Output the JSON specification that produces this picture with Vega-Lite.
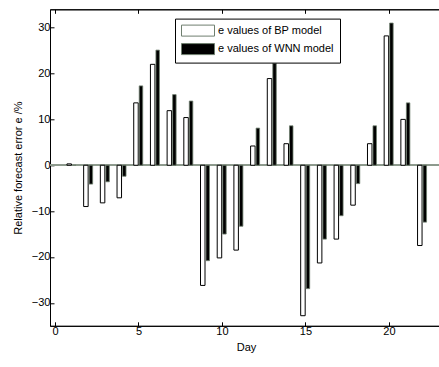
{
  "$schema": "https://vega.github.io/schema/vega-lite/v6.json",
  "width": 392,
  "height": 316.5,
  "autosize": {"type": "none"},
  "padding": {"left": 50, "top": 9.3, "right": 0, "bottom": 41.2},
  "config": {
    "font": "Liberation Sans",
    "view": {"stroke": "black", "strokeWidth": 1},
    "axis": {"grid": false, "domainColor": "black", "tickColor": "black", "labelColor": "black", "titleColor": "black", "labelFontSize": 11, "titleFontSize": 11, "titleFontWeight": "normal"}
  },
  "data": {
    "values": [
      {"day": 1, "model": "e values of BP model", "e": 0.3},
      {"day": 1, "model": "e values of WNN model", "e": 0},
      {"day": 2, "model": "e values of BP model", "e": -9.0},
      {"day": 2, "model": "e values of WNN model", "e": -4.1},
      {"day": 3, "model": "e values of BP model", "e": -8.2},
      {"day": 3, "model": "e values of WNN model", "e": -3.6},
      {"day": 4, "model": "e values of BP model", "e": -7.1},
      {"day": 4, "model": "e values of WNN model", "e": -2.4},
      {"day": 5, "model": "e values of BP model", "e": 13.6},
      {"day": 5, "model": "e values of WNN model", "e": 17.3},
      {"day": 6, "model": "e values of BP model", "e": 22.0},
      {"day": 6, "model": "e values of WNN model", "e": 25.1},
      {"day": 7, "model": "e values of BP model", "e": 11.9},
      {"day": 7, "model": "e values of WNN model", "e": 15.4},
      {"day": 8, "model": "e values of BP model", "e": 10.4},
      {"day": 8, "model": "e values of WNN model", "e": 14.0},
      {"day": 9, "model": "e values of BP model", "e": -26.2},
      {"day": 9, "model": "e values of WNN model", "e": -20.8},
      {"day": 10, "model": "e values of BP model", "e": -20.2},
      {"day": 10, "model": "e values of WNN model", "e": -15.0},
      {"day": 11, "model": "e values of BP model", "e": -18.5},
      {"day": 11, "model": "e values of WNN model", "e": -13.3},
      {"day": 12, "model": "e values of BP model", "e": 4.2},
      {"day": 12, "model": "e values of WNN model", "e": 8.1},
      {"day": 13, "model": "e values of BP model", "e": 18.9},
      {"day": 13, "model": "e values of WNN model", "e": 22.2},
      {"day": 14, "model": "e values of BP model", "e": 4.7},
      {"day": 14, "model": "e values of WNN model", "e": 8.6},
      {"day": 15, "model": "e values of BP model", "e": -32.8},
      {"day": 15, "model": "e values of WNN model", "e": -26.9},
      {"day": 16, "model": "e values of BP model", "e": -21.3},
      {"day": 16, "model": "e values of WNN model", "e": -16.1},
      {"day": 17, "model": "e values of BP model", "e": -16.1},
      {"day": 17, "model": "e values of WNN model", "e": -11.0},
      {"day": 18, "model": "e values of BP model", "e": -8.7},
      {"day": 18, "model": "e values of WNN model", "e": -4.0},
      {"day": 19, "model": "e values of BP model", "e": 4.7},
      {"day": 19, "model": "e values of WNN model", "e": 8.6},
      {"day": 20, "model": "e values of BP model", "e": 28.2},
      {"day": 20, "model": "e values of WNN model", "e": 31.0},
      {"day": 21, "model": "e values of BP model", "e": 10.0},
      {"day": 21, "model": "e values of WNN model", "e": 13.6},
      {"day": 22, "model": "e values of BP model", "e": -17.5},
      {"day": 22, "model": "e values of WNN model", "e": -12.4}
    ]
  },
  "layer": [
    {
      "mark": {"type": "rule", "color": "#8c9a8c", "strokeWidth": 1},
      "encoding": {"y": {"datum": 0, "type": "quantitative"}}
    },
    {
      "transform": [{"filter": "datum.model === 'e values of BP model'"}],
      "mark": {"type": "bar", "width": 4.5, "xOffset": -2.5, "stroke": "black", "strokeWidth": 1},
      "encoding": {
        "x": {
          "field": "day", "type": "quantitative",
          "scale": {"domain": [0, 22.88], "nice": false, "zero": false},
          "axis": {"orient": "bottom", "values": [0, 5, 10, 15, 20], "format": "d", "tickSize": -4, "labelPadding": 4, "labelFlush": false, "title": "Day", "titlePadding": 5}
        },
        "y": {
          "field": "e", "type": "quantitative",
          "scale": {"domain": [-35, 34], "nice": false},
          "axis": {"values": [-30, -20, -10, 0, 10, 20, 30], "tickSize": -4, "labelPadding": 4, "labelFlush": false, "title": "Relative forecast error e  /%", "titlePadding": 8}
        },
        "fill": {
          "field": "model", "type": "nominal",
          "scale": {"domain": ["e values of BP model", "e values of WNN model"], "range": ["white", "black"]},
          "legend": {"orient": "none", "legendX": 125, "legendY": 9.3, "title": null, "symbolType": "M-1,-1H5V1H-1Z", "symbolSize": 121, "symbolStrokeColor": "black", "symbolStrokeWidth": 1, "labelFontSize": 11, "labelColor": "black", "labelOffset": 25, "rowPadding": 2.5, "padding": 6, "strokeColor": "black", "fillColor": "white", "labelLimit": 300}
        }
      }
    },
    {
      "transform": [{"filter": "datum.model === 'e values of WNN model'"}],
      "mark": {"type": "bar", "width": 3.5, "xOffset": 2.5, "stroke": "#6f7f6f", "strokeWidth": 0.8},
      "encoding": {
        "x": {
          "field": "day", "type": "quantitative",
          "axis": {"orient": "top", "values": [0, 5, 10, 15, 20], "tickSize": -4, "labels": false, "title": null}
        },
        "y": {"field": "e", "type": "quantitative"},
        "fill": {"field": "model", "type": "nominal"}
      }
    }
  ],
  "resolve": {"axis": {"x": "independent"}}
}
